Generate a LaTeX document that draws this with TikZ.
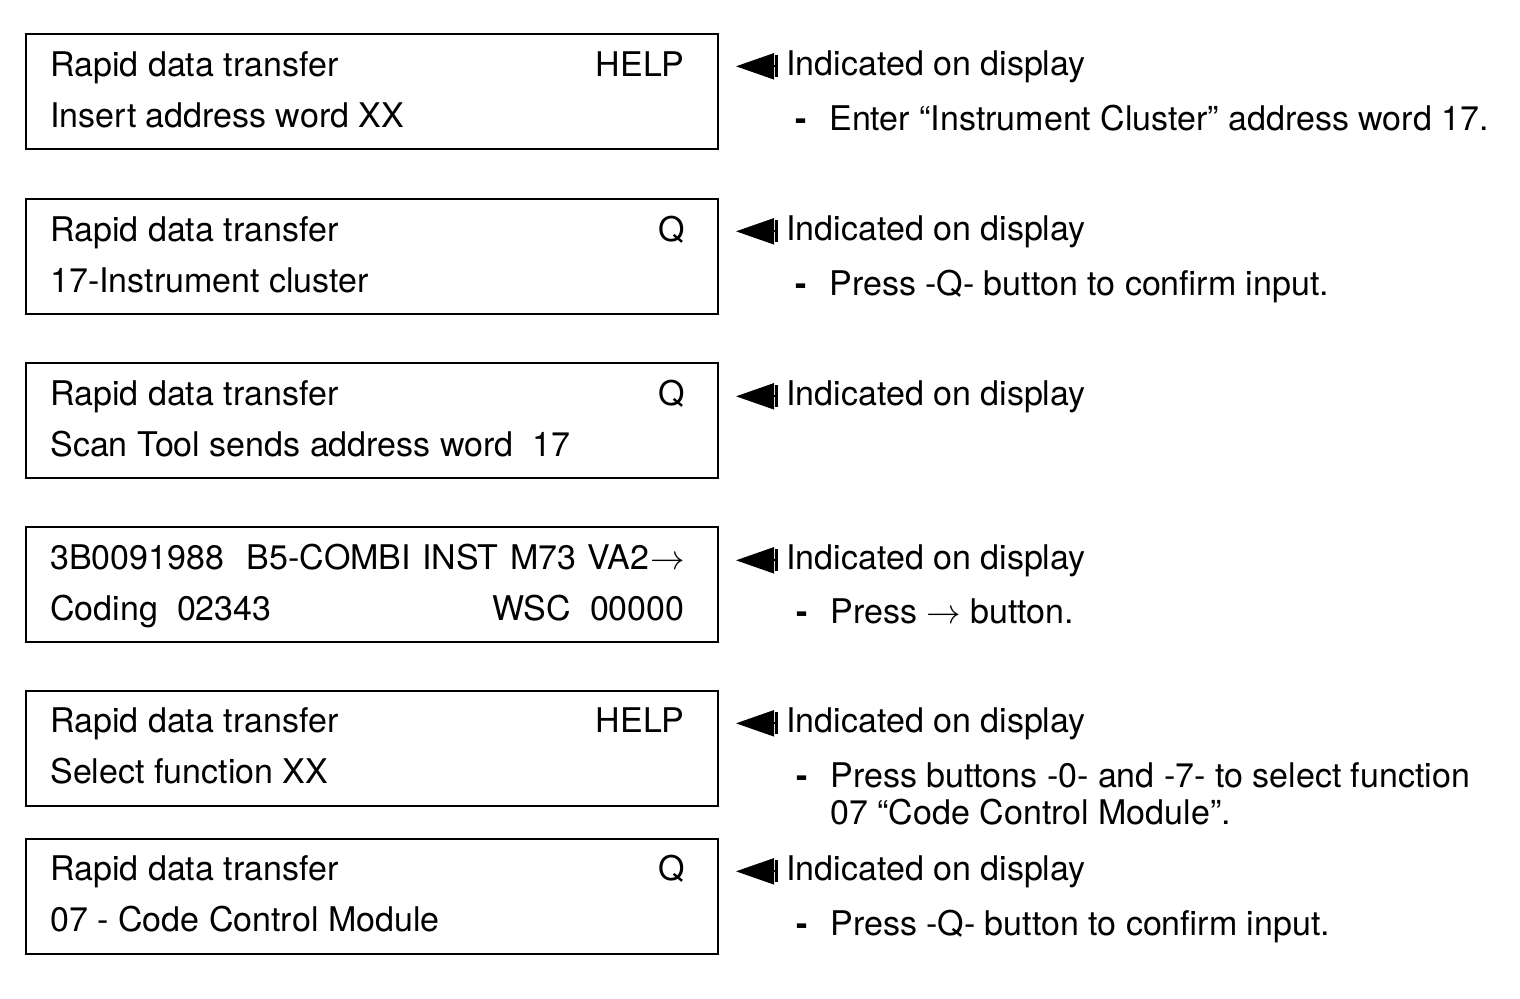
\documentclass[tikz,border=0pt]{standalone}
\usepackage{fontspec}
\setmainfont{TeX Gyre Heros}
\usetikzlibrary{arrows.meta}

\begin{document}
\begin{tikzpicture}[
    x=0.5pt, y=-0.5pt, % one unit is one pixel of the page
    every node/.style={inner sep=0pt, font=\fontsize{17}{20}\selectfont}, % plain text
    screen/.style={draw, line width=1.2pt, anchor=north west, minimum width=346pt, minimum height=57.5pt}, % tester display
    txt/.style={anchor=base west}, % text from its left end
    key/.style={anchor=base east}, % text from its right end
    bullet/.style={anchor=base, font=\fontsize{17}{20}\selectfont\bfseries}, % bullet of a step
    pointer/.style={line width=1pt, {Bar[width=11pt,line width=1.6pt]}-{Triangle[length=19pt,width=13pt]}} % marker to the display
    ]
\useasboundingbox (0,0) rectangle (1520,998);

% first display
\node[screen] (d1) at (25,33) {};
\node[txt] (d1a) at (50,76) {Rapid data transfer};
\node[key] (d1k) at (685,76) {HELP};
\node[txt] (d1b) at (50,127) {Insert address word XX};
\node[txt] (i1) at (786,75) {Indicated on display};
\draw[pointer] ([xshift=-4pt]i1.west) -- ([xshift=-25pt]i1.west);
\node[bullet] (m1) at (801,130) {-};
\node[txt] (s1) at (829,130) {Enter “Instrument Cluster” address word 17.};

% second display
\node[screen] (d2) at (25,198) {};
\node[txt] (d2a) at (50,241) {Rapid data transfer};
\node[key] (d2k) at (685,241) {Q};
\node[txt] (d2b) at (50,292) {17-Instrument cluster};
\node[txt] (i2) at (786,240) {Indicated on display};
\draw[pointer] ([xshift=-4pt]i2.west) -- ([xshift=-25pt]i2.west);
\node[bullet] (m2) at (801,295) {-};
\node[txt] (s2) at (829,295) {Press -Q- button to confirm input.};

% third display
\node[screen] (d3) at (25,362) {};
\node[txt] (d3a) at (50,405) {Rapid data transfer};
\node[key] (d3k) at (685,405) {Q};
\node[txt] (d3b) at (50,456) {Scan Tool sends address word\ \ 17};
\node[txt] (i3) at (786,405) {Indicated on display};
\draw[pointer] ([xshift=-4pt]i3.west) -- ([xshift=-25pt]i3.west);

% fourth display
\node[screen] (d4) at (25,526) {};
\node[txt, text width=317.5pt] (d4a) at (50,569) {3B0091988\ \ B5-COMBI INST M73 VA2\hfill$\rightarrow$};
\node[txt] (d4b) at (50,620) {Coding\ \ 02343};
\node[key] (d4k) at (685,620) {WSC\ \ 00000};
\node[txt] (i4) at (786,569) {Indicated on display};
\draw[pointer] ([xshift=-4pt]i4.west) -- ([xshift=-25pt]i4.west);
\node[bullet] (m4) at (802,623) {-};
\node[txt] (s4) at (830,623) {Press $\rightarrow$ button.};

% fifth display
\node[screen] (d5) at (25,690) {};
\node[txt] (d5a) at (50,732) {Rapid data transfer};
\node[key] (d5k) at (685,732) {HELP};
\node[txt] (d5b) at (50,783) {Select function XX};
\node[txt] (i5) at (786,732) {Indicated on display};
\draw[pointer] ([xshift=-4pt]i5.west) -- ([xshift=-25pt]i5.west);
\node[bullet] (m5) at (802,787) {-};
\node[txt] (s5) at (830,787) {Press buttons -0- and -7- to select function};
\node[txt] (s5b) at (830,824) {07 “Code Control Module”.};

% sixth display
\node[screen] (d6) at (25,838) {};
\node[txt] (d6a) at (50,880) {Rapid data transfer};
\node[key] (d6k) at (685,880) {Q};
\node[txt] (d6b) at (50,931) {07 - Code Control Module};
\node[txt] (i6) at (786,880) {Indicated on display};
\draw[pointer] ([xshift=-4pt]i6.west) -- ([xshift=-25pt]i6.west);
\node[bullet] (m6) at (802,935) {-};
\node[txt] (s6) at (830,935) {Press -Q- button to confirm input.};
\end{tikzpicture}
\end{document}
